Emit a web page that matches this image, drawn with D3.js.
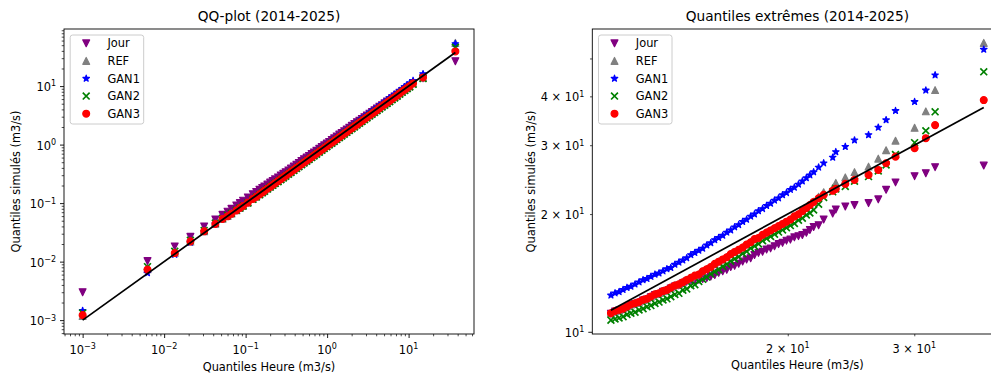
<!DOCTYPE html>
<html><head><meta charset="utf-8">
<script src="https://cdn.jsdelivr.net/npm/d3@7"></script>
<style>html,body{margin:0;padding:0;background:#fff;}svg{display:block;}text{font-family:"DejaVu Sans",sans-serif;}</style>
</head><body><svg id="c" width="991" height="376"></svg>
<script>
// ---------------- data ----------------
const seriesNames = ["Jour", "REF", "GAN1", "GAN2", "GAN3"];

// Left panel : QQ-plot (2014-2025)
const qHeure = [0.001, 0.00625, 0.0135, 0.021, 0.031, 0.0425, 0.052, 0.060, 0.067, 0.077,
  0.085, 0.093, 0.1065, 0.1225, 0.135, 0.148, 0.160, 0.170, 0.185, 0.200,
  0.215, 0.230, 0.250, 0.270, 0.290, 0.310, 0.335, 0.360, 0.390, 0.420,
  0.450, 0.485, 0.520, 0.560, 0.600, 0.645, 0.690, 0.740, 0.800, 0.860,
  0.920, 0.990, 1.06, 1.14, 1.22, 1.31, 1.41, 1.51, 1.62, 1.74,
  1.87, 2.01, 2.16, 2.32, 2.49, 2.67, 2.87, 3.08, 3.31, 3.55,
  3.81, 4.09, 4.39, 4.72, 5.07, 5.44, 5.84, 6.27, 6.73, 7.23,
  7.76, 8.33, 8.95, 9.60, 10.3, 11.35, 15.04, 37.48];
const qJour = [0.0030, 0.0102, 0.0182, 0.0265, 0.0400, 0.0525, 0.0630, 0.0714, 0.0797, 0.0909,
  0.100, 0.110, 0.125, 0.142, 0.155, 0.169, 0.182, 0.192, 0.207, 0.224,
  0.239, 0.255, 0.275, 0.297, 0.316, 0.338, 0.362, 0.389, 0.421, 0.454,
  0.486, 0.524, 0.562, 0.599, 0.641, 0.688, 0.735, 0.784, 0.846, 0.908,
  0.970, 1.04, 1.11, 1.20, 1.28, 1.38, 1.48, 1.58, 1.69, 1.81,
  1.94, 2.09, 2.25, 2.41, 2.56, 2.75, 2.93, 3.14, 3.38, 3.59,
  3.85, 4.13, 4.43, 4.72, 5.07, 5.44, 5.78, 6.21, 6.66, 7.16,
  7.68, 8.16, 8.77, 9.31, 9.99, 11.09, 13.61, 26.61];
const qREF = [0.00118, 0.0074, 0.0142, 0.0220, 0.0330, 0.0445, 0.0540, 0.0600, 0.0663, 0.0755,
  0.0833, 0.0902, 0.103, 0.119, 0.130, 0.142, 0.154, 0.163, 0.178, 0.192,
  0.206, 0.221, 0.240, 0.259, 0.278, 0.298, 0.322, 0.346, 0.374, 0.403,
  0.432, 0.466, 0.499, 0.538, 0.576, 0.619, 0.662, 0.710, 0.768, 0.826,
  0.883, 0.950, 1.02, 1.09, 1.17, 1.26, 1.35, 1.45, 1.56, 1.67,
  1.80, 1.93, 2.07, 2.23, 2.39, 2.56, 2.76, 2.96, 3.18, 3.41,
  3.66, 3.93, 4.21, 4.53, 4.87, 5.22, 5.61, 6.02, 6.46, 6.94,
  7.53, 8.08, 8.68, 9.31, 9.99, 11.18, 14.03, 54.81];
const qGAN1 = [0.00145, 0.0064, 0.0132, 0.0213, 0.0325, 0.0440, 0.0540, 0.0588, 0.0657, 0.0755,
  0.0825, 0.0902, 0.103, 0.119, 0.131, 0.144, 0.155, 0.165, 0.180, 0.196,
  0.211, 0.225, 0.245, 0.265, 0.284, 0.304, 0.332, 0.356, 0.386, 0.416,
  0.446, 0.480, 0.515, 0.560, 0.600, 0.645, 0.690, 0.740, 0.800, 0.860,
  0.920, 0.990, 1.06, 1.15, 1.23, 1.32, 1.42, 1.53, 1.64, 1.76,
  1.89, 2.03, 2.20, 2.37, 2.56, 2.75, 2.96, 3.20, 3.44, 3.69,
  3.96, 4.25, 4.57, 4.96, 5.32, 5.71, 6.19, 6.65, 7.13, 7.66,
  8.30, 8.91, 9.67, 10.46, 11.23, 12.40, 16.14, 52.72];
const qGAN2 = [0.00132, 0.0082, 0.0150, 0.0232, 0.0340, 0.0455, 0.0550, 0.0618, 0.0670, 0.0755,
  0.0825, 0.0893, 0.101, 0.116, 0.127, 0.139, 0.150, 0.160, 0.174, 0.188,
  0.202, 0.216, 0.233, 0.251, 0.270, 0.288, 0.312, 0.335, 0.363, 0.391,
  0.419, 0.451, 0.484, 0.521, 0.558, 0.600, 0.642, 0.688, 0.744, 0.800,
  0.856, 0.921, 0.986, 1.06, 1.13, 1.22, 1.31, 1.40, 1.51, 1.62,
  1.74, 1.87, 2.01, 2.16, 2.32, 2.48, 2.67, 2.86, 3.08, 3.30,
  3.54, 3.80, 4.08, 4.39, 4.72, 5.06, 5.43, 5.83, 6.26, 6.72,
  7.29, 7.83, 8.41, 9.02, 9.68, 10.71, 13.45, 46.22];
const qGAN3 = [0.00122, 0.0073, 0.0140, 0.0222, 0.0330, 0.0440, 0.0535, 0.0594, 0.0657, 0.0747,
  0.0825, 0.0893, 0.102, 0.118, 0.128, 0.141, 0.152, 0.162, 0.176, 0.190,
  0.204, 0.219, 0.238, 0.257, 0.276, 0.295, 0.318, 0.342, 0.371, 0.399,
  0.428, 0.461, 0.494, 0.532, 0.570, 0.613, 0.656, 0.703, 0.760, 0.817,
  0.874, 0.941, 1.01, 1.08, 1.16, 1.24, 1.34, 1.43, 1.54, 1.65,
  1.78, 1.91, 2.05, 2.20, 2.37, 2.54, 2.73, 2.93, 3.14, 3.37,
  3.62, 3.89, 4.21, 4.53, 4.87, 5.22, 5.61, 6.02, 6.46, 6.94,
  7.53, 8.08, 8.68, 9.31, 9.99, 11.16, 14.01, 39.14];

// Right panel : Quantiles extrêmes (2014-2025)
const eHeure = [11.35, 11.50, 11.65, 11.80, 11.95, 12.10, 12.26, 12.42, 12.58, 12.74,
  12.90, 13.07, 13.24, 13.41, 13.58, 13.75, 13.93, 14.11, 14.29, 14.47,
  14.66, 14.85, 15.04, 15.23, 15.43, 15.63, 15.83, 16.03, 16.24, 16.45,
  16.66, 16.87, 17.09, 17.31, 17.53, 17.76, 17.98, 18.21, 18.45, 18.69,
  18.93, 19.17, 19.42, 19.67, 19.92, 20.17, 20.43, 20.70, 20.96, 21.23,
  21.47, 21.73, 22.08, 22.44,
  23.10, 23.33, 24.05, 24.77, 25.91, 26.73, 27.41, 28.25, 30.03, 31.13, 32.07, 37.48];
const eJour = [11.12, 11.26, 11.33, 11.41, 11.55, 11.70, 11.78, 11.87, 12.02, 12.10,
  12.26, 12.41, 12.49, 12.65, 12.74, 12.91, 13.06, 13.14, 13.30, 13.45,
  13.50, 13.55, 13.58, 13.65, 13.72, 13.85, 13.97, 14.15, 14.28, 14.40,
  14.64, 14.74, 14.93, 15.12, 15.31, 15.42, 15.71, 15.91, 16.02, 16.23,
  16.34, 16.55, 16.76, 16.88, 17.10, 17.21, 17.44, 17.56, 17.68, 17.91,
  18.21, 18.54, 18.73, 19.37,
  20.07, 20.55, 20.91, 21.08, 21.33, 21.81, 23.07, 24.10, 25.00, 25.44, 26.36, 26.61];
const eREF = [11.18, 11.31, 11.37, 11.47, 11.62, 11.74, 11.85, 11.93, 12.06, 12.17,
  12.30, 12.48, 12.56, 12.70, 12.82, 12.96, 13.15, 13.24, 13.38, 13.58,
  13.75, 13.90, 14.03, 14.26, 14.47, 14.66, 14.90, 15.13, 15.30, 15.53,
  15.78, 16.02, 16.20, 16.44, 16.71, 16.96, 17.24, 17.40, 17.69, 17.95,
  18.15, 18.42, 18.62, 18.90, 19.10, 19.38, 19.71, 20.00, 20.38, 20.77,
  21.13, 21.52, 22.15, 22.75,
  23.34, 24.03, 24.82, 25.61, 26.45, 27.72, 29.13, 30.81, 33.25, 36.62, 41.51, 54.81];
const eGAN1 = [12.40, 12.56, 12.65, 12.81, 12.97, 13.06, 13.23, 13.40, 13.57, 13.67,
  13.84, 14.02, 14.12, 14.30, 14.48, 14.58, 14.86, 15.05, 15.24, 15.44,
  15.73, 15.93, 16.14, 16.34, 16.65, 16.87, 17.18, 17.40, 17.63, 17.96,
  18.19, 18.53, 18.77, 19.13, 19.37, 19.74, 19.99, 20.37, 20.63, 21.02,
  21.29, 21.69, 21.97, 22.38, 22.67, 23.10, 23.39, 23.83, 24.28, 24.74,
  25.16, 25.62, 26.34, 27.01,
  27.92, 28.84, 29.75, 30.90, 31.88, 33.31, 34.81, 36.75, 38.75, 41.46, 45.33, 52.72];
const eGAN2 = [10.71, 10.78, 10.85, 10.93, 11.07, 11.15, 11.22, 11.37, 11.45, 11.59,
  11.67, 11.82, 11.91, 12.06, 12.14, 12.30, 12.46, 12.54, 12.78, 12.87,
  13.11, 13.20, 13.45, 13.62, 13.80, 14.06, 14.24, 14.42, 14.69, 14.88,
  15.16, 15.35, 15.55, 15.85, 16.05, 16.35, 16.56, 16.78, 17.09, 17.31,
  17.53, 17.76, 17.99, 18.22, 18.45, 18.69, 18.93, 19.29, 19.53, 19.90,
  20.13, 20.49, 21.19, 22.05,
  22.80, 23.20, 23.54, 24.27, 24.94, 25.79, 26.72, 28.38, 30.45, 32.67, 36.52, 46.22];
const eGAN3 = [11.16, 11.30, 11.38, 11.46, 11.60, 11.75, 11.83, 11.92, 12.07, 12.15,
  12.31, 12.47, 12.55, 12.71, 12.80, 12.97, 13.13, 13.22, 13.39, 13.57,
  13.74, 13.92, 14.01, 14.28, 14.46, 14.65, 14.92, 15.11, 15.31, 15.51,
  15.80, 16.00, 16.21, 16.42, 16.72, 16.94, 17.26, 17.38, 17.70, 17.93,
  18.16, 18.40, 18.63, 18.87, 19.12, 19.36, 19.73, 19.98, 20.36, 20.74,
  21.10, 21.48, 21.95, 22.40,
  22.93, 23.20, 23.89, 24.46, 25.19, 25.94, 26.98, 28.05, 29.47, 31.27, 33.77, 39.14];

// tick values / labels
const leftTicks = [1e-3, 1e-2, 1e-1, 1e0, 1e1];
const leftTickLabels = ["10^\u22123", "10^\u22122", "10^\u22121", "10^0", "10^1"];
const rightXTicks = [20, 30];
const rightXTickLabels = ["2 \u00d7 10^1", "3 \u00d7 10^1"];
const rightYTicks = [10, 20, 30, 40];
const rightYTickLabels = ["10^1", "2 \u00d7 10^1", "3 \u00d7 10^1", "4 \u00d7 10^1"];

// ---------------- style ----------------
const seriesColors = ["purple", "gray", "blue", "green", "red"];
const seriesMarkers = ["v", "^", "*", "x", "o"];
const MR = 3.42, MSW = 1.2;
const FS = 11.4, TFS = 13.7;

const svg = d3.select("#c");
svg.append("rect").attr("width", 991).attr("height", 376).attr("fill", "#fff");

function markerPath(m, r) {
  if (m === "o") return `M${r},0A${r},${r} 0 1,1 ${-r},0A${r},${r} 0 1,1 ${r},0Z`;
  if (m === "^") return `M0,${-r}L${-r},${r}L${r},${r}Z`;
  if (m === "v") return `M0,${r}L${-r},${-r}L${r},${-r}Z`;
  if (m === "x") return `M${-r},${-r}L${r},${r}M${-r},${r}L${r},${-r}`;
  let p = "";
  for (let i = 0; i < 10; i++) {
    const a = -Math.PI / 2 + i * Math.PI / 5, rr = i % 2 ? r * 0.381966 : r;
    p += (i ? "L" : "M") + (rr * Math.cos(a)).toFixed(2) + "," + (rr * Math.sin(a)).toFixed(2);
  }
  return p + "Z";
}
function styleMarker(sel, m, c) {
  if (m === "x") sel.attr("fill", "none").attr("stroke", c).attr("stroke-width", 1.7);
  else sel.attr("fill", c).attr("stroke", c).attr("stroke-width", MSW).attr("stroke-linejoin", "round");
}
function addLabel(g, str, x, y, anchor) {
  const parts = str.split("^");
  const t = g.append("text").attr("x", x).attr("y", y).attr("text-anchor", anchor)
    .attr("font-size", FS).attr("fill", "#000");
  t.append("tspan").text(parts[0]);
  if (parts.length > 1) t.append("tspan").attr("font-size", 8).attr("dy", -4.6).text(parts[1]);
}
function logMinors(dom) {
  const out = [];
  for (let e = Math.floor(Math.log10(dom[0])) - 1; e <= Math.ceil(Math.log10(dom[1])); e++)
    for (let k = 2; k <= 9; k++) { const v = k * Math.pow(10, e); if (v >= dom[0] && v <= dom[1]) out.push(v); }
  return out;
}
function logMajors(dom) {
  const out = [];
  for (let e = Math.floor(Math.log10(dom[0])); e <= Math.ceil(Math.log10(dom[1])); e++) {
    const v = Math.pow(10, e); if (v >= dom[0] && v <= dom[1]) out.push(v);
  }
  return out;
}

function panel(o) {
  const { x0, x1, y0, y1, xData, ys, id } = o;
  const lineExt = d3.extent(xData);
  const allY = ys.flat().concat(lineExt);
  const lx = lineExt.map(Math.log10), ly = d3.extent(allY).map(Math.log10);
  const px = (lx[1] - lx[0]) * 0.05, py = (ly[1] - ly[0]) * 0.05;
  const xs = d3.scaleLog().domain([10 ** (lx[0] - px), 10 ** (lx[1] + px)]).range([x0, x1]);
  const yS = d3.scaleLog().domain([10 ** (ly[0] - py), 10 ** (ly[1] + py)]).range([y1, y0]);
  const g = svg.append("g");
  g.append("clipPath").attr("id", "clip" + id).append("rect")
    .attr("x", x0).attr("y", y0).attr("width", x1 - x0).attr("height", y1 - y0);
  const plot = g.append("g").attr("clip-path", `url(#clip${id})`);
  ys.forEach((arr, s) => {
    const m = seriesMarkers[s], c = seriesColors[s];
    plot.append("g").selectAll("path").data(arr.map((v, i) => [xData[i], v])).join("path")
      .attr("transform", d => `translate(${xs(d[0])},${yS(d[1])})`)
      .attr("d", markerPath(m, MR)).call(sel => styleMarker(sel, m, c));
  });
  plot.append("path").datum(lineExt.map(v => [v, v]))
    .attr("d", d3.line().x(d => xs(d[0])).y(d => yS(d[1])))
    .attr("stroke", "#000").attr("stroke-width", 1.7).attr("fill", "none");

  // axes (ticks)
  const xDom = xs.domain(), yDom = yS.domain();
  const xMaj = o.xTicks.filter(v => v >= xDom[0] && v <= xDom[1]);
  const yMaj = o.yTicks.filter(v => v >= yDom[0] && v <= yDom[1]);
  const addAxis = (axis, tr, vals, size, w) => {
    const a = g.append("g").attr("transform", tr)
      .call(axis.tickValues(vals).tickSize(size).tickFormat(() => ""));
    a.select(".domain").remove();
    a.selectAll("line").attr("stroke", "#000").attr("stroke-width", w);
  };
  addAxis(d3.axisBottom(xs), `translate(0,${y1})`, logMinors(xDom), 2.3, 0.7);
  addAxis(d3.axisBottom(xs), `translate(0,${y1})`, logMajors(xDom), 4, 0.9);
  addAxis(d3.axisLeft(yS), `translate(${x0},0)`, logMinors(yDom), 2.3, 0.7);
  addAxis(d3.axisLeft(yS), `translate(${x0},0)`, logMajors(yDom), 4, 0.9);
  xMaj.forEach(v => addLabel(g, o.xLabels[o.xTicks.indexOf(v)], xs(v), o.xLabY, "middle"));
  yMaj.forEach(v => addLabel(g, o.yLabels[o.yTicks.indexOf(v)], x0 - 8, yS(v) + 5, "end"));

  g.append("rect").attr("x", x0).attr("y", y0).attr("width", x1 - x0).attr("height", y1 - y0)
    .attr("fill", "none").attr("stroke", "#000").attr("stroke-width", 0.9);

  const cx = (x0 + x1) / 2;
  g.append("text").attr("x", cx).attr("y", 21).attr("text-anchor", "middle")
    .attr("font-size", TFS).attr("fill", "#000").text(o.title);
  g.append("text").attr("x", cx).attr("y", o.xTitleY).attr("text-anchor", "middle")
    .attr("font-size", FS).attr("fill", "#000").text("Quantiles Heure (m3/s)");
  g.append("text").attr("transform", `translate(${o.yTitleX},${(y0 + y1) / 2}) rotate(-90)`)
    .attr("text-anchor", "middle").attr("font-size", FS).attr("fill", "#000")
    .text("Quantiles simulés (m3/s)");

  // legend
  const lg = g.append("g").attr("transform", `translate(${x0 + 6.2},35)`);
  lg.append("rect").attr("width", 73.5).attr("height", 89).attr("rx", 2.5)
    .attr("fill", "#fff").attr("fill-opacity", 0.8).attr("stroke", "#cccccc").attr("stroke-width", 1);
  seriesNames.forEach((n, s) => {
    const yy = 8.3 + s * 17.6;
    lg.append("path").attr("transform", `translate(16,${yy})`)
      .attr("d", markerPath(seriesMarkers[s], MR)).call(sel => styleMarker(sel, seriesMarkers[s], seriesColors[s]));
    lg.append("text").attr("x", 37.3).attr("y", yy + 4.1).attr("font-size", FS).attr("fill", "#000").text(n);
  });
}

panel({ id: "L", x0: 64, x1: 474, y0: 29, y1: 334, xData: qHeure,
  ys: [qJour, qREF, qGAN1, qGAN2, qGAN3], title: "QQ-plot (2014-2025)",
  xTicks: leftTicks, xLabels: leftTickLabels, yTicks: leftTicks, yLabels: leftTickLabels,
  xLabY: 354, xTitleY: 371, yTitleX: 19.7 });
panel({ id: "R", x0: 592.3, x1: 1002.4, y0: 29, y1: 334, xData: eHeure,
  ys: [eJour, eREF, eGAN1, eGAN2, eGAN3], title: "Quantiles extrêmes (2014-2025)",
  xTicks: rightXTicks, xLabels: rightXTickLabels, yTicks: rightYTicks, yLabels: rightYTickLabels,
  xLabY: 352.5, xTitleY: 369, yTitleX: 535.2 });
</script></body></html>
